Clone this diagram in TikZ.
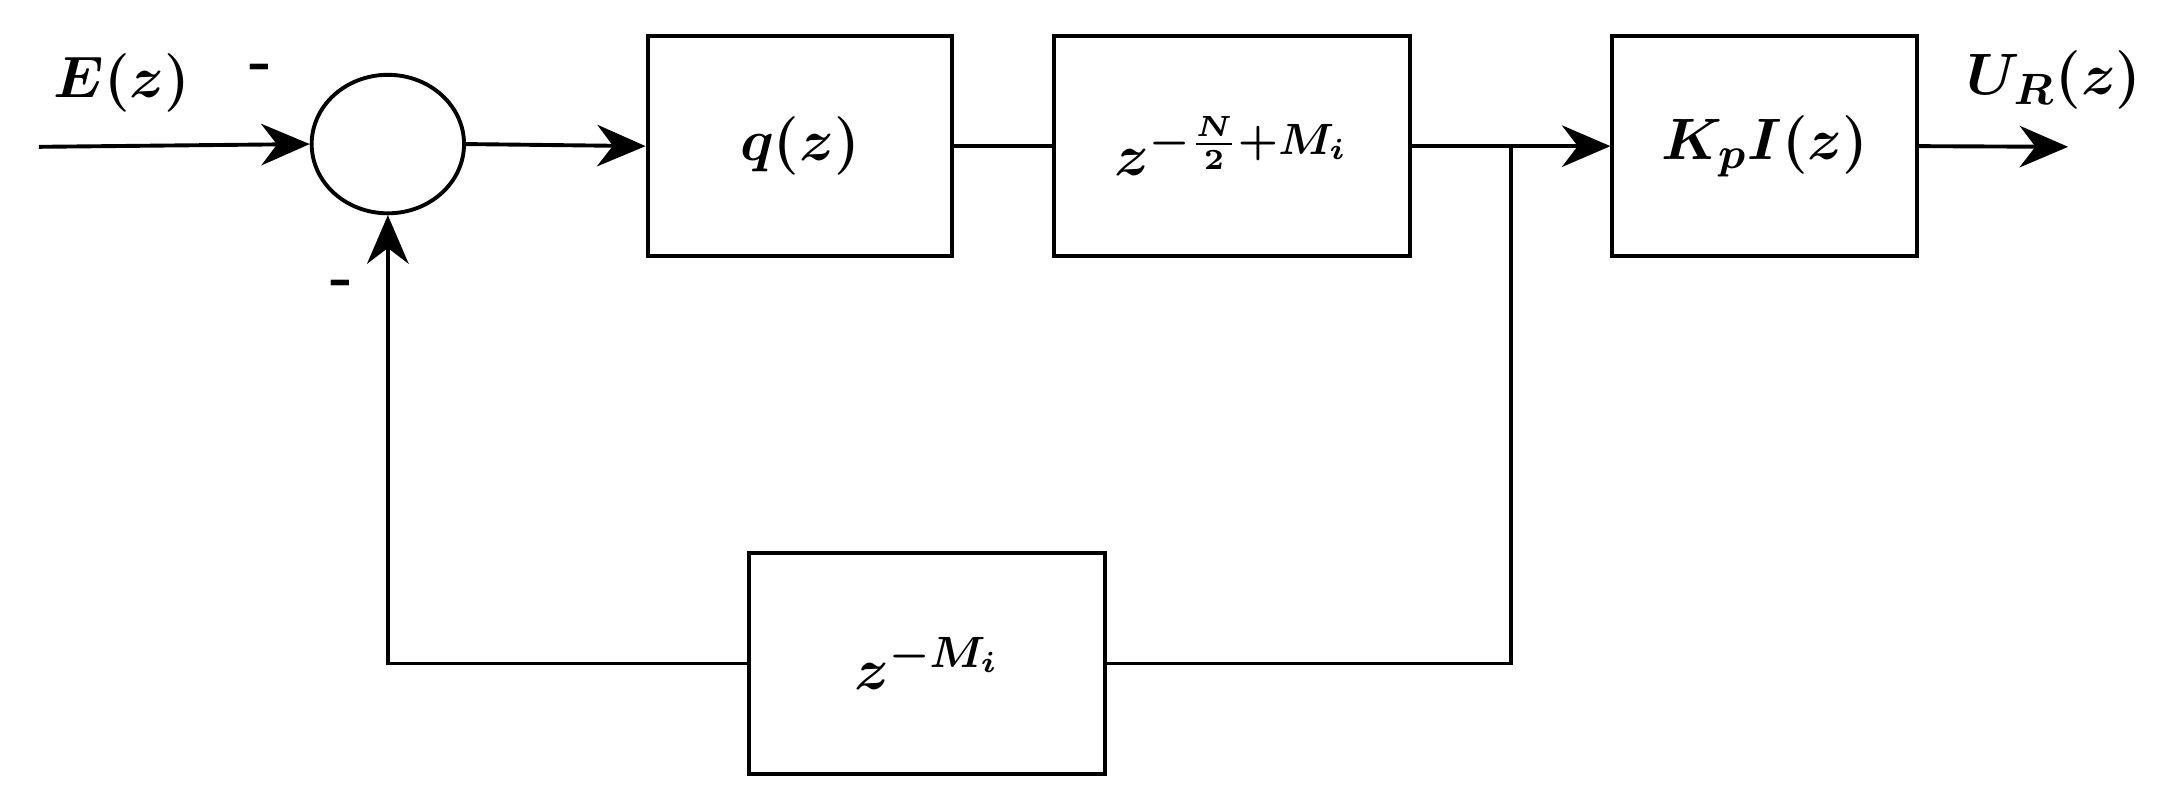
\documentclass[tikz,border=0pt]{standalone}
\usepackage{amsmath,bm}
\usetikzlibrary{arrows.meta,positioning,shapes.geometric}

\begin{document}
\begin{tikzpicture}[
  x=0.1mm, y=-0.1mm,
  >=Stealth,
  every node/.style={inner sep=2pt, font=\fontsize{12.5}{15}\selectfont},
  block/.style={draw, thick, minimum width=22mm, minimum height=15.9mm},
  wblock/.style={block, minimum width=25.7mm},
  sum/.style={draw, thick, ellipse, minimum width=11mm, minimum height=10mm, inner sep=0pt},
  sig/.style={thick, ->, >={Stealth[length=3.5mm,width=3mm]}},
  wire/.style={thick}
]
\useasboundingbox (0,0) rectangle (1568,585);

% --- forward path ---
\node[sum]    (sum)   at (280,104)   {};
\node[block]  (qz)    at (577.5,105.5) {$\bm{q(z)}$};
\node[wblock] (delay) at (889.5,105.5) {$\bm{z^{-\frac{N}{2}+M_i}}$};
\node[block]  (kp)    at (1274,105.5)  {$\bm{K_pI(z)}$};

% --- feedback path ---
\node[wblock] (fb)    at (669.5,479) {$\bm{z^{-M_i}}$};

\coordinate (in)   at (28,106);
\coordinate (out)  at (1493,106);
\coordinate (tap)  at (1091,106);

% labels
\node (lin)  at (88,60)   {$\bm{E(z)}$};
\node (lout) at (1483,58) {$\bm{U_R(z)}$};
\node (m1)   at (188,52)  {\textbf{-}};
\node (m2)   at (247,208) {\textbf{-}};

\draw[sig]  (in) -- (sum.west);
\draw[sig]  (sum.east) -- (qz.west);
\draw[wire] (qz.east) -- (delay.west);
\draw[sig]  (delay.east) -- (kp.west);
\draw[sig]  (kp.east) -- (out);
\draw[wire] (tap) |- (fb.east);
\draw[sig]  (fb.west) -| (sum.south);

\end{tikzpicture}
\end{document}
